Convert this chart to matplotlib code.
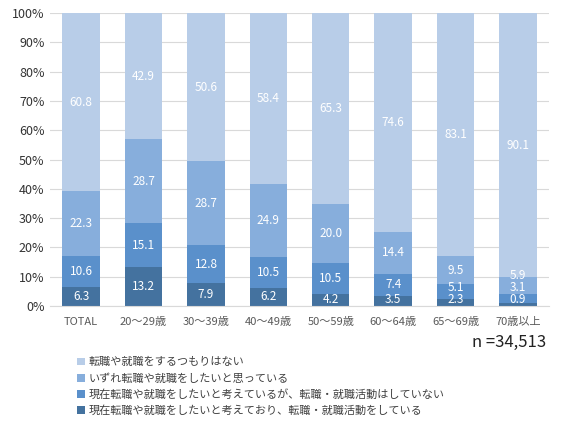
import matplotlib.pyplot as plt
import numpy as np

plt.rcParams["font.family"] = ["Noto Sans CJK JP", "DejaVu Sans"]

categories = ["TOTAL", "20～29歳", "30～39歳", "40～49歳", "50～59歳", "60～64歳", "65～69歳", "70歳以上"]
active = [6.3, 13.2, 7.9, 6.2, 4.2, 3.5, 2.3, 0.9]
want_now = [10.6, 15.1, 12.8, 10.5, 10.5, 7.4, 5.1, 3.1]
someday = [22.3, 28.7, 28.7, 24.9, 20.0, 14.4, 9.5, 5.9]
no_plan = [60.8, 42.9, 50.6, 58.4, 65.3, 74.6, 83.1, 90.1]
series_names = [
    "現在転職や就職をしたいと考えており、転職・就職活動をしている",
    "現在転職や就職をしたいと考えているが、転職・就職活動はしていない",
    "いずれ転職や就職をしたいと思っている",
    "転職や就職をするつもりはない",
]
colors = ["#44729F", "#5A90CB", "#87AEDC", "#B8CDE8"]

fig = plt.figure(figsize=(5.62, 4.26), dpi=100)
ax = fig.add_axes([0.089, 0.282, 0.888, 0.687])

x = np.arange(len(categories))
data = np.array([active, want_now, someday, no_plan])
bottoms = np.vstack([np.zeros(len(categories)), np.cumsum(data, axis=0)[:-1]])

handles = []
for vals, bt, name, c in zip(data, bottoms, series_names, colors):
    handles.append(ax.bar(x, vals, 0.6, bottom=bt, color=c, label=name, zorder=2))

# label positions, pushed apart where segments are thin
for i in range(len(categories)):
    ys = bottoms[:, i] + data[:, i] / 2
    ys[0] = max(ys[0], 2.2)
    for k in range(1, len(ys)):
        ys[k] = max(ys[k], ys[k - 1] + 4.1)
    for k in range(len(ys)):
        ax.text(x[i], ys[k], f"{data[k, i]:.1f}", ha="center", va="center",
                color="white", fontsize=8.5, zorder=3)

ax.set_xlim(-0.5, len(categories) - 0.5)
ax.set_ylim(0, 100)
ax.set_yticks(range(0, 101, 10))
ax.set_yticklabels([f"{v}%" for v in range(0, 101, 10)], fontsize=9, color="#333333")
ax.set_xticks(x)
ax.set_xticklabels(categories, fontsize=8, color="#595959")
ax.tick_params(length=0, pad=8)
ax.tick_params(axis="y", pad=4)
ax.grid(axis="y", color="#D9D9D9", lw=0.8, zorder=0)
for s in ["top", "right", "left"]:
    ax.spines[s].set_visible(False)
ax.spines["bottom"].set_color("#D9D9D9")

fig.text(0.972, 0.195, "n =34,513", ha="right", va="center", fontsize=12, color="#222222")

fig.legend(handles[::-1], series_names[::-1], loc="upper left",
           bbox_to_anchor=(0.12, 0.185), frameon=False, fontsize=8,
           handlelength=0.7, handleheight=0.7, handletextpad=0.3,
           labelspacing=0.5, labelcolor="#404040")

fig.savefig("out.png", dpi=100)
